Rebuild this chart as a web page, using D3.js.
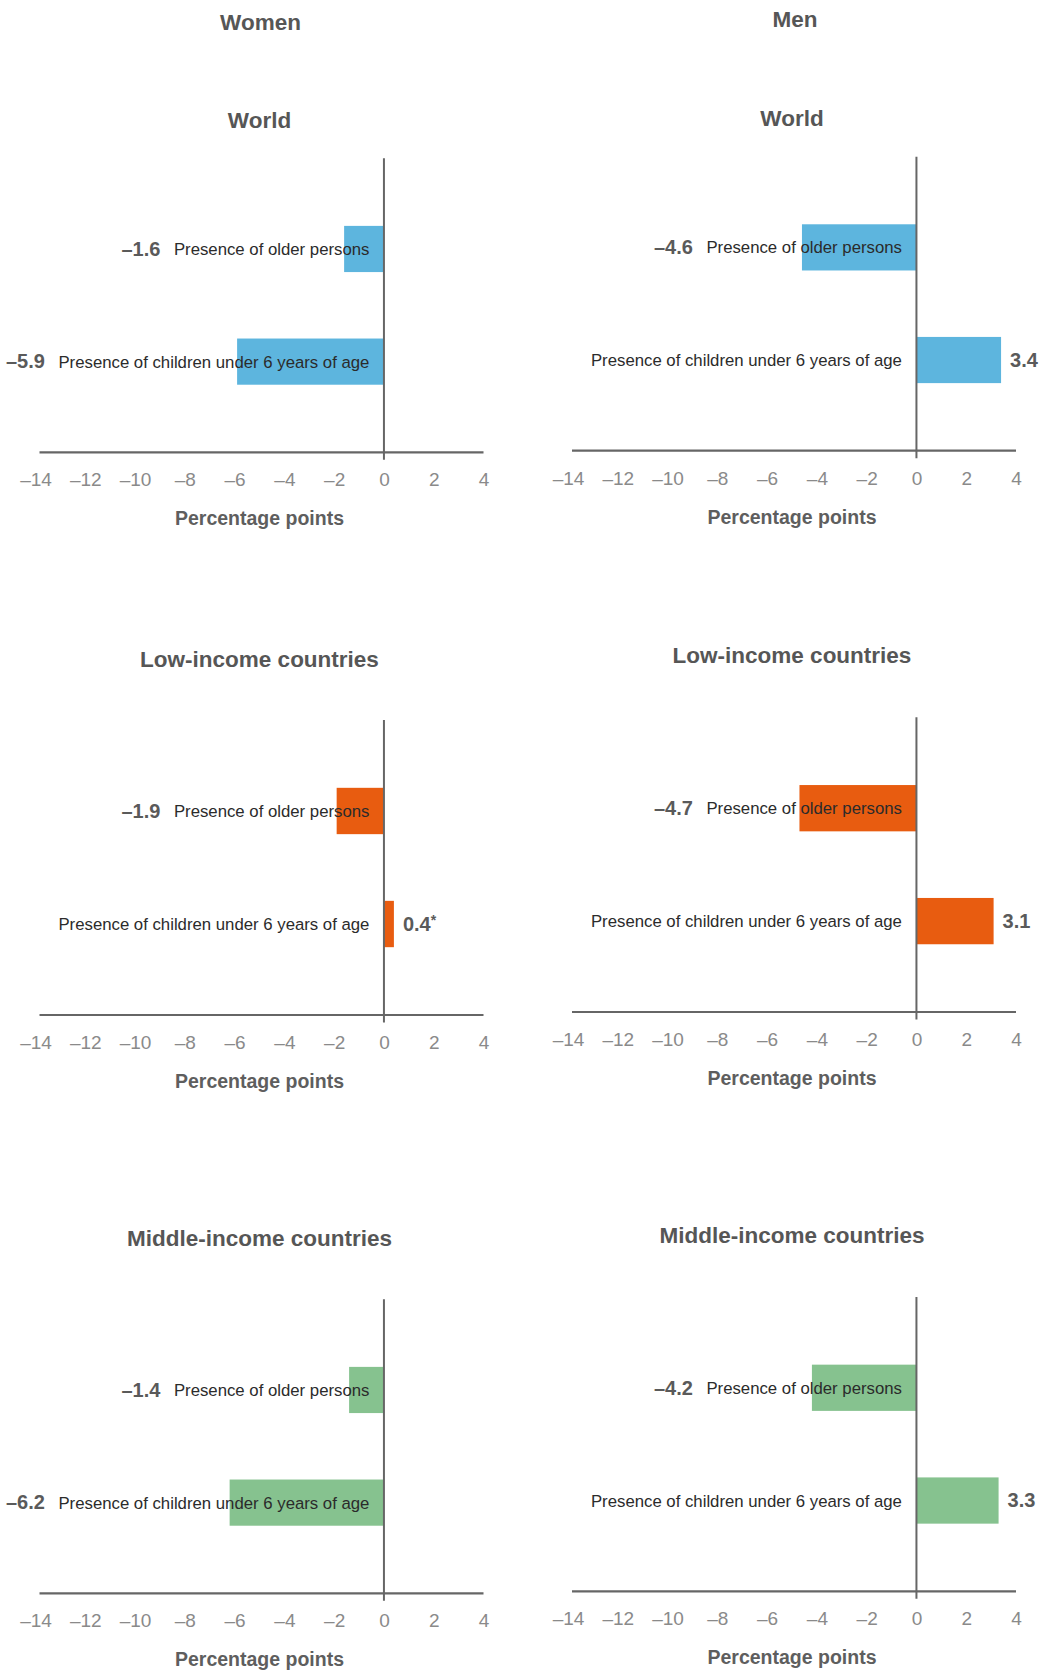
<!DOCTYPE html>
<html>
<head>
<meta charset="utf-8">
<script src="https://cdn.jsdelivr.net/npm/d3@7"></script>
<style>
  html, body { margin: 0; padding: 0; background: #fff; }
  svg { display: block; font-family: "Liberation Sans", Arial, Helvetica, sans-serif; }
</style>
</head>
<body>
<svg id="chart" width="1040" height="1672"></svg>
<script>
// ---------------- data ----------------
const groups = ["Women", "Men"];
const panelTitles = ["World", "Low-income countries", "Middle-income countries"];
const categories = ["Presence of older persons", "Presence of children under 6 years of age"];
const womenValues = [[-1.6, -5.9], [-1.9, 0.4], [-1.4, -6.2]];
const menValues = [[-4.6, 3.4], [-4.7, 3.1], [-4.2, 3.3]];
const womenLabels = [["\u20131.6", "\u20135.9"], ["\u20131.9", "0.4*"], ["\u20131.4", "\u20136.2"]];
const menLabels = [["\u20134.6", "3.4"], ["\u20134.7", "3.1"], ["\u20134.2", "3.3"]];
const panelColors = ["#5db5de", "#e85c10", "#86c28f"];
const xTicks = [-14, -12, -10, -8, -6, -4, -2, 0, 2, 4];
const xDomain = [-14, 4];
const xAxisTitle = "Percentage points";

// ---------------- layout ----------------
const columns = [
  { header: { x: 260.5, y: 29.5 }, range: [35.5, 483.5],
    panels: [
      { titleY: 128.3, vtop: 158.3, axisY: 452.3 },
      { titleY: 666.7, vtop: 720, axisY: 1015 },
      { titleY: 1245.5, vtop: 1299.3, axisY: 1593.3 }
    ] },
  { header: { x: 795, y: 26.5 }, range: [568, 1016],
    panels: [
      { titleY: 126, vtop: 156.7, axisY: 450.7 },
      { titleY: 663.3, vtop: 717.3, axisY: 1012 },
      { titleY: 1243.3, vtop: 1297, axisY: 1591.3 }
    ] }
];
const valuesByGroup = [womenValues, menValues];
const labelsByGroup = [womenLabels, menLabels];

const svg = d3.select("#chart");
const titleColor = "#565656";
const axisColor = "#666666";

columns.forEach((col, gi) => {
  const x = d3.scaleLinear().domain(xDomain).range(col.range);
  const cx = (col.range[0] + col.range[1]) / 2;

  svg.append("text")
    .attr("x", col.header.x).attr("y", col.header.y)
    .attr("text-anchor", "middle")
    .attr("font-size", 22.5).attr("font-weight", "bold")
    .attr("fill", titleColor)
    .text(groups[gi]);

  col.panels.forEach((p, pi) => {
    const g = svg.append("g");
    const y = d3.scaleBand().domain(categories)
      .range([p.vtop, p.axisY]).paddingInner(0.59).paddingOuter(0.6);
    const vals = valuesByGroup[gi][pi];
    const labs = labelsByGroup[gi][pi];
    const data = categories.map((c, i) => ({ cat: c, v: vals[i], lab: labs[i] }));

    // title
    g.append("text")
      .attr("x", cx).attr("y", p.titleY)
      .attr("text-anchor", "middle")
      .attr("font-size", 22.5).attr("font-weight", "bold")
      .attr("fill", titleColor)
      .text(panelTitles[pi]);

    // bars
    g.selectAll("rect.bar").data(data).join("rect")
      .attr("class", "bar")
      .attr("x", d => x(Math.min(0, d.v)))
      .attr("width", d => Math.abs(x(d.v) - x(0)))
      .attr("y", d => y(d.cat))
      .attr("height", y.bandwidth())
      .attr("fill", panelColors[pi]);

    // x axis (tick labels only)
    const axis = d3.axisBottom(x).tickValues(xTicks).tickSize(0).tickPadding(20.5)
      .tickFormat(d => d < 0 ? "\u2013" + Math.abs(d) : String(d));
    const ag = g.append("g").attr("transform", `translate(0,${p.axisY})`).call(axis);
    ag.select(".domain").remove();
    ag.selectAll("text")
      .attr("font-size", 19)
      .attr("font-family", "\"Liberation Sans\", Arial, sans-serif")
      .attr("fill", "#8a8a8a");

    // baseline
    g.append("line")
      .attr("x1", x(-14) + 4).attr("x2", x(4))
      .attr("y1", p.axisY).attr("y2", p.axisY)
      .attr("stroke", axisColor).attr("stroke-width", 2.2);

    // zero line
    g.append("line")
      .attr("x1", x(0)).attr("x2", x(0))
      .attr("y1", p.vtop).attr("y2", p.axisY + 7.5)
      .attr("stroke", axisColor).attr("stroke-width", 2);

    // category labels
    const catText = g.selectAll("text.cat").data(data).join("text")
      .attr("class", "cat")
      .attr("x", x(0) - 14.5)
      .attr("y", d => y(d.cat) + y.bandwidth() / 2)
      .attr("dy", "0.36em")
      .attr("text-anchor", "end")
      .attr("font-size", 16.75)
      .attr("fill", "#2b2b2b")
      .text(d => d.cat);

    // value labels
    data.forEach((d, i) => {
      const yy = y(d.cat) + y.bandwidth() / 2;
      let t;
      if (d.v < 0) {
        const w = catText.nodes()[i].getComputedTextLength();
        t = g.append("text")
          .attr("x", x(0) - 14.5 - w - 13.5)
          .attr("text-anchor", "end");
      } else {
        t = g.append("text")
          .attr("x", x(d.v) + 9)
          .attr("text-anchor", "start");
      }
      t.attr("y", yy).attr("dy", "0.34em")
        .attr("font-size", 20).attr("font-weight", "bold")
        .attr("fill", "#5a5a5a");
      const lab = d.lab;
      if (lab.endsWith("*")) {
        t.append("tspan").text(lab.slice(0, -1));
        t.append("tspan").attr("font-size", 14).attr("dy", "-0.45em").text("*");
      } else {
        t.text(lab);
      }
    });

    // axis title
    g.append("text")
      .attr("x", cx).attr("y", p.axisY + 73)
      .attr("text-anchor", "middle")
      .attr("font-size", 19.5).attr("font-weight", "bold")
      .attr("fill", "#5e5e5e")
      .text(xAxisTitle);
  });
});
</script>
</body>
</html>
